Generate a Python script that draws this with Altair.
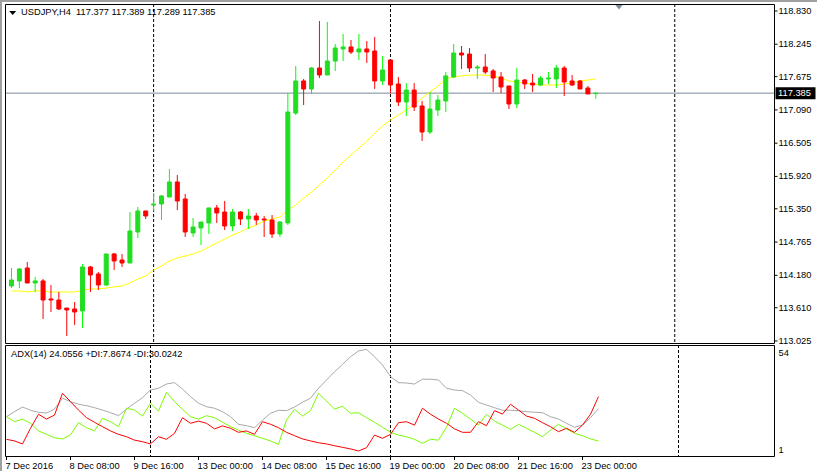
import altair as alt
import pandas as pd

# ---------------- data ----------------
opens = [113.993, 114.081, 114.309, 114.045, 114.081, 113.764, 113.746, 113.605, 113.588, 113.553,
         114.327, 114.204, 114.010, 114.556, 114.450, 114.397, 114.942, 115.312, 115.417, 115.435,
         115.558, 115.822, 115.523, 114.925, 115.013, 115.101, 115.365, 115.294, 115.048, 115.294,
         115.171, 115.224, 115.171, 115.154, 114.907, 115.101, 117.035, 117.599, 117.458, 117.827,
         117.704, 117.950, 118.162, 118.197, 118.109, 118.162, 118.126, 117.599, 117.968, 117.546,
         117.229, 117.440, 117.159, 116.701, 117.088, 117.247, 117.669, 118.091, 118.073, 117.827,
         117.845, 117.775, 117.669, 117.511, 117.194, 117.616, 117.563, 117.528, 117.634, 117.634,
         117.827, 117.599, 117.599, 117.475, 117.377]
highs = [114.309, 114.309, 114.415, 114.151, 114.116, 114.010, 113.887, 113.605, 113.711, 114.380,
         114.344, 114.239, 114.556, 114.573, 114.556, 115.294, 115.382, 115.312, 115.628, 115.593,
         116.051, 115.945, 115.611, 115.189, 115.118, 115.365, 115.417, 115.488, 115.347, 115.312,
         115.347, 115.277, 115.224, 115.241, 115.136, 117.387, 117.862, 117.634, 117.845, 118.654,
         118.636, 118.249, 118.425, 118.320, 118.425, 118.302, 118.373, 118.038, 117.968, 117.669,
         117.563, 117.563, 117.247, 117.405, 117.352, 117.757, 118.249, 118.214, 118.179, 117.880,
         118.073, 117.810, 117.757, 117.511, 117.827, 117.634, 117.722, 117.687, 117.757, 117.880,
         117.862, 117.704, 117.616, 117.511, 117.389]
lows = [113.957, 113.957, 114.045, 113.887, 113.412, 113.535, 113.570, 113.113, 113.306, 113.254,
        113.887, 113.922, 113.993, 114.274, 114.327, 114.397, 114.837, 115.171, 115.312, 115.154,
        115.558, 115.329, 114.855, 114.855, 114.714, 114.907, 115.101, 114.978, 114.960, 115.066,
        114.995, 115.066, 114.855, 114.837, 114.855, 115.066, 117.000, 117.176, 117.370, 117.651,
        117.704, 117.775, 117.950, 118.073, 117.968, 117.915, 117.458, 117.528, 117.387, 117.159,
        116.983, 117.071, 116.543, 116.666, 116.983, 117.053, 117.651, 117.810, 117.757, 117.634,
        117.722, 117.405, 117.387, 117.106, 117.124, 117.458, 117.405, 117.511, 117.546, 117.475,
        117.335, 117.511, 117.458, 117.370, 117.289]
closes = [114.098, 114.292, 114.045, 114.081, 113.746, 113.746, 113.588, 113.570, 113.535, 114.327,
          114.186, 114.010, 114.556, 114.432, 114.397, 114.960, 115.312, 115.224, 115.435, 115.576,
          115.822, 115.488, 114.942, 115.030, 115.118, 115.365, 115.277, 115.048, 115.294, 115.171,
          115.224, 115.154, 115.154, 114.907, 115.118, 117.053, 117.599, 117.458, 117.827, 117.704,
          117.950, 118.179, 118.197, 118.109, 118.162, 118.109, 117.599, 117.792, 117.528, 117.229,
          117.440, 117.141, 116.701, 117.106, 117.264, 117.687, 118.091, 118.056, 117.827, 117.845,
          117.757, 117.651, 117.493, 117.194, 117.616, 117.546, 117.528, 117.651, 117.651, 117.827,
          117.581, 117.528, 117.458, 117.370, 117.385]
ma_values = [113.905, 113.905, 113.887, 113.905, 113.905, 113.887, 113.887, 113.887, 113.887, 113.922,
             113.940, 113.940, 113.957, 113.975, 113.993, 114.045, 114.116, 114.168, 114.274, 114.344,
             114.432, 114.485, 114.520, 114.556, 114.608, 114.679, 114.749, 114.819, 114.890, 114.942,
             115.013, 115.066, 115.136, 115.171, 115.206, 115.329, 115.417, 115.540, 115.646, 115.769,
             115.892, 116.033, 116.174, 116.297, 116.420, 116.543, 116.684, 116.807, 116.913, 117.000,
             117.088, 117.176, 117.300, 117.405, 117.511, 117.634, 117.669, 117.687, 117.704, 117.704,
             117.704, 117.687, 117.651, 117.599, 117.581, 117.563, 117.546, 117.528, 117.528, 117.528,
             117.546, 117.563, 117.599, 117.616, 117.634]
adx = [20.0, 22.5, 24.8, 23.2, 22.2, 21.8, 23.8, 29.2, 27.5, 26.2,
       25.5, 24.5, 23.3, 22.0, 20.5, 23.8, 26.7, 29.5, 33.3, 34.2,
       36.3, 37.0, 33.8, 30.0, 26.7, 25.0, 24.2, 22.5, 20.0, 16.2,
       15.5, 14.5, 18.3, 21.7, 23.2, 23.0, 24.8, 27.2, 29.2, 34.2,
       38.3, 42.4, 46.1, 49.9, 52.8, 53.6, 49.9, 45.8, 40.0, 37.0,
       36.8, 36.3, 38.7, 38.7, 38.3, 34.2, 33.3, 33.0, 30.8, 27.2,
       25.8, 24.5, 23.2, 23.2, 23.0, 22.5, 22.2, 22.0, 20.0, 18.8,
       16.7, 14.7, 15.8, 19.5, 24.0556]
plus_di = [20.0, 17.5, 18.8, 16.7, 12.9, 11.2, 9.5, 8.9, 10.9, 17.0,
           14.5, 12.9, 19.2, 17.5, 15.0, 24.2, 23.3, 20.3, 26.7, 22.8,
           32.2, 27.5, 23.7, 20.0, 18.8, 20.5, 19.5, 17.2, 15.0, 13.3,
           11.7, 10.5, 9.2, 7.9, 6.2, 18.3, 23.7, 20.3, 23.0, 31.7,
           27.8, 23.8, 25.2, 21.7, 22.0, 19.5, 17.2, 14.7, 12.2, 10.8,
           10.0, 8.7, 6.7, 8.7, 8.3, 14.7, 24.2, 21.7, 18.8, 15.8,
           21.2, 17.8, 15.8, 13.7, 16.2, 14.2, 12.2, 10.0, 13.3, 16.2,
           13.9, 11.7, 10.5, 8.9, 7.8674]
minus_di = [8.7, 7.9, 6.4, 14.2, 21.2, 18.8, 20.8, 31.7, 27.5, 23.3,
            19.5, 17.2, 15.0, 12.9, 11.2, 10.0, 8.3, 7.5, 6.4, 10.0,
            8.7, 11.7, 19.5, 16.7, 17.8, 16.7, 13.9, 15.4, 14.2, 12.2,
            12.9, 11.2, 17.5, 16.2, 14.5, 12.2, 10.5, 8.9, 7.9, 7.0,
            6.4, 5.5, 4.7, 3.9, 2.9, 4.5, 10.8, 9.2, 11.2, 17.0,
            17.5, 15.8, 24.2, 21.2, 18.8, 16.7, 13.9, 12.2, 12.2, 17.5,
            15.5, 23.0, 21.3, 26.2, 23.3, 20.3, 19.2, 17.0, 15.0, 12.5,
            14.2, 12.2, 15.8, 21.2, 30.0242]
tick_index = [0, 8, 16, 24, 32, 40, 48, 56, 64, 72]
tick_labels = ["7 Dec 2016", "8 Dec 08:00", "9 Dec 16:00", "13 Dec 00:00", "14 Dec 08:00",
               "15 Dec 16:00", "19 Dec 00:00", "20 Dec 08:00", "21 Dec 16:00", "23 Dec 00:00"]
separators = [18, 48, 84]
price_ticks = [118.830, 118.245, 117.675, 117.090, 116.505, 115.920, 115.350, 114.765,
               114.180, 113.610, 113.025]
adx_max, adx_min = 54, 1
symbol = "USDJPY,H4"

# ---------------- styling / layout ----------------
FONT = "Liberation Sans"
FS = 9.3
W, H1, H2 = 770, 340, 112
BULL_BODY, BULL_WICK, BEAR = "#22dd22", "#00ff00", "#ff0000"
CHROME = "#a0a0a0"
TRI = "M-1,-0.6L1,-0.6L0,0.6Z"
BOX = "M-1,-0.3L1,-0.3L1,0.3L-1,0.3Z"

n = len(closes)
idx = list(range(n))
candles = pd.DataFrame({"i": idx, "open": opens, "high": highs, "low": lows, "close": closes})
candles["bull"] = candles["close"] >= candles["open"]
candles["body_lo"] = candles[["open", "close"]].min(axis=1)
candles["body_hi"] = candles[["open", "close"]].max(axis=1)
ma_df = pd.DataFrame({"i": idx, "ma": ma_values})
adx_df = pd.DataFrame({"i": idx, "adx": adx, "pdi": plus_di, "mdi": minus_di})
sep_df = pd.DataFrame({"i": separators})
last_df = pd.DataFrame({"p": [closes[-1]], "label": [f"{closes[-1]:.3f}"]})
pt_df = pd.DataFrame({"p": price_ticks, "label": [f"{v:.3f}" for v in price_ticks]})
xt_df = pd.DataFrame({"i": tick_index, "label": tick_labels})
one = pd.DataFrame({"k": [0]})

header = (symbol + "\u00a0\u00a0" +
          " ".join(f"{v:.3f}" for v in (opens[-1], highs[-1], lows[-1], closes[-1])))
adx_header = f"ADX(14) {adx[-1]:.4f} +DI:{plus_di[-1]:.4f} -DI:{minus_di[-1]:.4f}"

xs = alt.Scale(domain=[-0.1875, -0.1875 + W / 8], nice=False, zero=False)
ys = alt.Scale(domain=[112.972, 118.953], nice=False, zero=False)
ys2 = alt.Scale(domain=[-0.12, 55.77], nice=False, zero=False)


def X():
    return alt.X("i:Q", scale=xs, axis=None)


def YP(f):
    return alt.Y(f, scale=ys, axis=None)


def YA(f):
    return alt.Y(f, scale=ys2, axis=None)


def txt(**kw):
    base = dict(font=FONT, fontSize=FS, color="black", align="left", baseline="middle")
    base.update(kw)
    return base


def band(x1, x2, y1, y2):
    return alt.Chart(one).mark_rect(color=CHROME, opacity=1).encode(
        x=alt.value(x1), x2=alt.value(x2), y=alt.value(y1), y2=alt.value(y2))


# ---------------- main price panel ----------------
top_band = band(-5, W + 42, -4, -2)
left_band1 = band(-5, -3, -4, H1 + 1)
sep_main = alt.Chart(sep_df).mark_rule(color="black", strokeWidth=1, strokeDash=[3, 2]).encode(x=X())
bid_line = alt.Chart(last_df).mark_rule(color="#778899", strokeWidth=1).encode(y=YP("p:Q"))
ma_line = alt.Chart(ma_df).mark_line(color="#ffff00", strokeWidth=1).encode(x=X(), y=YP("ma:Q"))
wicks = alt.Chart(candles).mark_rule(strokeWidth=1).encode(
    x=X(), y=YP("low:Q"), y2="high:Q",
    color=alt.condition("datum.bull", alt.value(BULL_WICK), alt.value(BEAR)))
bodies = alt.Chart(candles).mark_bar(size=4, strokeWidth=1).encode(
    x=X(), y=YP("body_lo:Q"), y2="body_hi:Q",
    fill=alt.condition("datum.bull", alt.value(BULL_BODY), alt.value(BEAR)),
    stroke=alt.condition("datum.bull", alt.value(BULL_BODY), alt.value(BEAR)))
head_tri = alt.Chart(one).mark_point(shape=TRI, filled=True, color="black", size=49, opacity=1).encode(
    x=alt.value(7.7), y=alt.value(9))
head_txt = alt.Chart(one).mark_text(**txt()).encode(
    x=alt.value(16), y=alt.value(8), text=alt.value(header))
shift_mark = alt.Chart(one).mark_point(shape=TRI, filled=True, color="#7f8c99", size=64,
                                       opacity=1).encode(x=alt.value(614), y=alt.value(3))
p_ticks = alt.Chart(pt_df).mark_rule(color="black", strokeWidth=1).encode(
    x=alt.value(W), x2=alt.value(W + 2.5), y=YP("p:Q"))
p_labels = alt.Chart(pt_df).mark_text(**txt()).encode(
    x=alt.value(W + 3.5), y=YP("p:Q"), text="label:N")
price_box = alt.Chart(last_df).mark_point(shape=BOX, filled=True, color="black", size=1600,
                                          opacity=1).encode(x=alt.value(790.5), y=YP("p:Q"))
price_txt = alt.Chart(last_df).mark_text(**txt(color="white")).encode(
    x=alt.value(773), y=YP("p:Q"), text="label:N")
frame1 = alt.Chart(one).mark_rect(fillOpacity=0, stroke="black", strokeWidth=1).encode(
    x=alt.value(0.5), x2=alt.value(W - 0.5), y=alt.value(0.5), y2=alt.value(H1 - 0.5))

main = alt.layer(top_band, left_band1, sep_main, bid_line, ma_line, wicks, bodies, head_tri,
                 head_txt, shift_mark, p_ticks, p_labels, price_box, price_txt,
                 frame1).properties(width=W, height=H1)

# ---------------- ADX panel ----------------
left_band2 = band(-5, -3, 0, H2 + 14)
sep_adx = alt.Chart(sep_df).mark_rule(color="black", strokeWidth=1, strokeDash=[3, 2]).encode(x=X())
adx_line = alt.Chart(adx_df).mark_line(color="#a9a9a9", strokeWidth=1).encode(x=X(), y=YA("adx:Q"))
pdi_line = alt.Chart(adx_df).mark_line(color="#7cfc00", strokeWidth=1).encode(x=X(), y=YA("pdi:Q"))
mdi_line = alt.Chart(adx_df).mark_line(color="#ff0000", strokeWidth=1).encode(x=X(), y=YA("mdi:Q"))
adx_txt = alt.Chart(one).mark_text(**txt()).encode(
    x=alt.value(6), y=alt.value(9), text=alt.value(adx_header))
max_lbl = alt.Chart(pd.DataFrame({"v": [adx_max]})).mark_text(**txt(baseline="top")).encode(
    x=alt.value(W + 3.5), y=YA("v:Q"), text="v:N")
min_lbl = alt.Chart(pd.DataFrame({"v": [adx_min]})).mark_text(**txt(baseline="bottom")).encode(
    x=alt.value(W + 3.5), y=YA("v:Q"), text="v:N")
x_ticks = alt.Chart(xt_df).mark_rule(color="black", strokeWidth=1).encode(
    x=X(), y=alt.value(H2), y2=alt.value(H2 + 3))
x_labels = alt.Chart(xt_df).mark_text(**txt(baseline="top", dx=-1)).encode(
    x=X(), y=alt.value(H2 + 5), text="label:N")
frame2 = alt.Chart(one).mark_rect(fillOpacity=0, stroke="black", strokeWidth=1).encode(
    x=alt.value(0.5), x2=alt.value(W - 0.5), y=alt.value(0.5), y2=alt.value(H2 - 0.5))

adx_panel = alt.layer(left_band2, sep_adx, adx_line, pdi_line, mdi_line, adx_txt, max_lbl,
                      min_lbl, x_ticks, x_labels, frame2).properties(width=W, height=H2)

chart = alt.vconcat(main, adx_panel, spacing=1, bounds="flush").properties(
    padding={"left": 0, "top": 0, "right": 0, "bottom": 0}, background="white"
).configure_view(stroke=None)

chart.save("out.html", embed_options={"renderer": "svg", "actions": False})
